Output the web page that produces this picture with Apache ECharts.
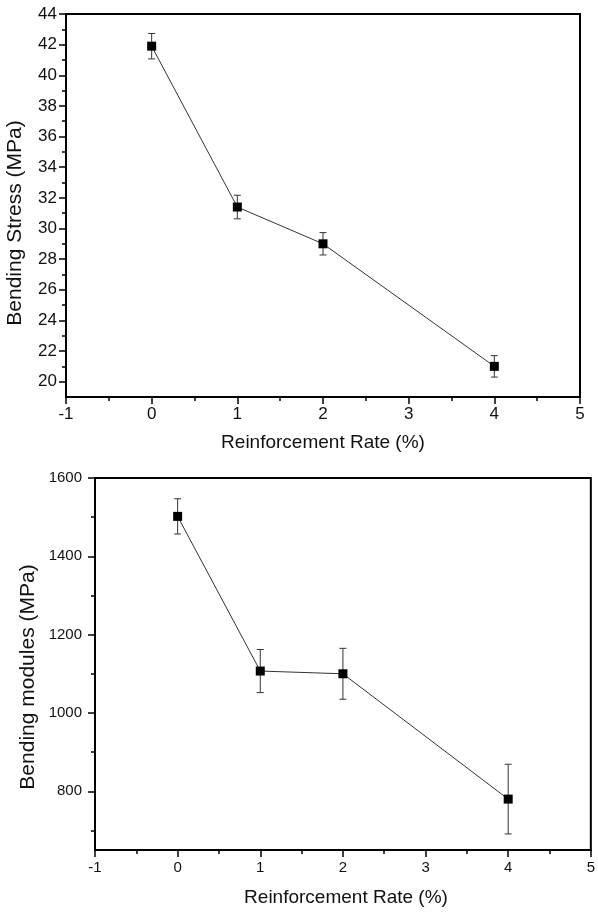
<!DOCTYPE html>
<html>
<head>
<meta charset="utf-8">
<script src="https://cdn.jsdelivr.net/npm/echarts@6/dist/echarts.min.js"></script>
<style>
html,body{margin:0;padding:0;background:#fff;}
#chart{width:598px;height:912px;}
</style>
</head>
<body>
<div id="chart"></div>
<script>
// ---- data ----
const xValues = [0, 1, 2, 4];
const stressValues = [41.9, 31.4, 29.0, 21.0];
const stressErrors = [0.83, 0.77, 0.73, 0.70];
const modulusValues = [1502, 1107, 1100, 780];
const modulusErrors = [45, 55, 65, 89];
const stressTicks = [20, 22, 24, 26, 28, 30, 32, 34, 36, 38, 40, 42, 44];
const stressMinorTicks = [21, 23, 25, 27, 29, 31, 33, 35, 37, 39, 41, 43];
const modulusTicks = [800, 1000, 1200, 1400, 1600];
const modulusMinorTicks = [700, 900, 1100, 1300, 1500];
const xTitle = 'Reinforcement Rate (%)';
const stressTitle = 'Bending Stress (MPa)';
const modulusTitle = 'Bending modules (MPa)';

const FONT = 'Liberation Sans, Arial, sans-serif';
const chart = echarts.init(document.getElementById('chart'), null, {renderer: 'canvas'});
const plain = v => String(v);

function xAxisCfg(gridIndex, fontSize, margin) {
  return {
    type: 'value', gridIndex: gridIndex, min: -1, max: 5, interval: 1,
    axisLine: {show: true, onZero: false, lineStyle: {color: '#000', width: 2}},
    axisTick: {show: true, inside: false, length: 7, lineStyle: {color: '#000', width: 1.5}},
    minorTick: {show: true, splitNumber: 2, length: 4, lineStyle: {color: '#000', width: 1.5}},
    splitLine: {show: false}, minorSplitLine: {show: false},
    axisLabel: {fontSize: fontSize, fontFamily: FONT, color: '#111', margin: margin, formatter: plain}
  };
}
function yAxisMajor(gridIndex, min, max, ticks, fontSize, margin) {
  return {
    type: 'value', gridIndex: gridIndex, min: min, max: max, position: 'left',
    axisLine: {show: true, onZero: false, lineStyle: {color: '#000', width: 2}},
    axisTick: {show: true, inside: false, length: 7, customValues: ticks, lineStyle: {color: '#000', width: 1.5}},
    axisLabel: {fontSize: fontSize, fontFamily: FONT, color: '#111', margin: margin, customValues: ticks, formatter: plain},
    splitLine: {show: false}
  };
}
function yAxisMinor(gridIndex, min, max, ticks) {
  return {
    type: 'value', gridIndex: gridIndex, min: min, max: max, position: 'left', offset: 0,
    axisLine: {show: false, onZero: false},
    axisTick: {show: true, inside: false, length: 4, customValues: ticks, lineStyle: {color: '#000', width: 1.5}},
    axisLabel: {show: false},
    splitLine: {show: false}
  };
}
function errorSeries(xAxisIndex, yAxisIndex, values, errors) {
  return {
    type: 'custom', xAxisIndex: xAxisIndex, yAxisIndex: yAxisIndex, z: 1,
    data: xValues.map((x, i) => [x, values[i] - errors[i], values[i] + errors[i]]),
    encode: {x: 0, y: [1, 2]},
    renderItem: function (params, api) {
      const x = api.value(0);
      const top = api.coord([x, api.value(2)]);
      const bot = api.coord([x, api.value(1)]);
      const w = 3.5;
      const st = {stroke: '#333', lineWidth: 1};
      return {
        type: 'group',
        children: [
          {type: 'line', shape: {x1: top[0], y1: top[1], x2: bot[0], y2: bot[1]}, style: st},
          {type: 'line', shape: {x1: top[0] - w, y1: top[1], x2: top[0] + w, y2: top[1]}, style: st},
          {type: 'line', shape: {x1: bot[0] - w, y1: bot[1], x2: bot[0] + w, y2: bot[1]}, style: st}
        ]
      };
    }
  };
}
function lineSeries(xAxisIndex, yAxisIndex, values) {
  return {
    type: 'line', xAxisIndex: xAxisIndex, yAxisIndex: yAxisIndex, z: 3,
    data: xValues.map((x, i) => [x, values[i]]),
    symbol: 'rect', symbolSize: 9,
    itemStyle: {color: '#000'},
    lineStyle: {color: '#333', width: 1}
  };
}

const option = {
  animation: false,
  backgroundColor: '#fff',
  grid: [
    {left: 66, right: 18, top: 14, bottom: 515, show: true, borderColor: '#000', borderWidth: 2, containLabel: false},
    {left: 95, right: 2, top: 478, bottom: 62, show: true, borderColor: '#000', borderWidth: 2, containLabel: false}
  ],
  xAxis: [xAxisCfg(0, 17, 9), xAxisCfg(1, 15, 10)],
  yAxis: [
    yAxisMajor(0, 19, 44, stressTicks, 17, 9),
    yAxisMinor(0, 19, 44, stressMinorTicks),
    yAxisMajor(1, 650, 1600, modulusTicks, 15, 13),
    yAxisMinor(1, 650, 1600, modulusMinorTicks)
  ],
  series: [
    errorSeries(0, 0, stressValues, stressErrors),
    lineSeries(0, 0, stressValues),
    errorSeries(1, 2, modulusValues, modulusErrors),
    lineSeries(1, 2, modulusValues)
  ],
  graphic: [
    {type: 'text', x: 15, y: 223, rotation: Math.PI / 2,
     style: {text: stressTitle, fontSize: 21, fontFamily: FONT, fill: '#111', align: 'center', verticalAlign: 'middle'}},
    {type: 'text', x: 323, y: 443,
     style: {text: xTitle, fontSize: 19, fontFamily: FONT, fill: '#111', align: 'center', verticalAlign: 'middle'}},
    {type: 'text', x: 28, y: 677, rotation: Math.PI / 2,
     style: {text: modulusTitle, fontSize: 21, fontFamily: FONT, fill: '#111', align: 'center', verticalAlign: 'middle'}},
    {type: 'text', x: 346, y: 898,
     style: {text: xTitle, fontSize: 19, fontFamily: FONT, fill: '#111', align: 'center', verticalAlign: 'middle'}}
  ]
};
chart.setOption(option);
</script>
</body>
</html>
